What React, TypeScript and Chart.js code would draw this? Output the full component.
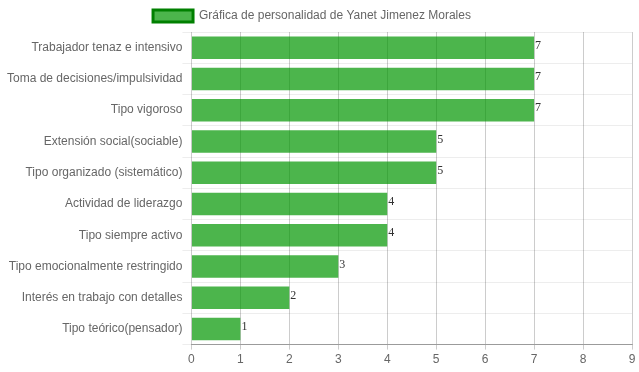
import React, { useEffect, useRef } from "react";
import { Chart, registerables } from "chart.js";

Chart.register(...registerables);

const categories = [
  "Trabajador tenaz e intensivo",
  "Toma de decisiones/impulsividad",
  "Tipo vigoroso",
  "Extensión social(sociable)",
  "Tipo organizado (sistemático)",
  "Actividad de liderazgo",
  "Tipo siempre activo",
  "Tipo emocionalmente restringido",
  "Interés en trabajo con detalles",
  "Tipo teórico(pensador)",
];
const values = [7, 7, 7, 5, 5, 4, 4, 3, 2, 1];
const seriesLabel = "Gráfica de personalidad de Yanet Jimenez Morales";
const xMin = 0;
const xMax = 9;

const valueLabels = {
  id: "valueLabels",
  afterDatasetsDraw(chart: any) {
    const ctx = chart.ctx;
    const meta = chart.getDatasetMeta(0);
    ctx.save();
    ctx.font = "12px 'Liberation Serif', serif";
    ctx.fillStyle = "#333";
    ctx.textAlign = "left";
    ctx.textBaseline = "middle";
    meta.data.forEach((bar: any, i: number) => {
      ctx.fillText(String(values[i]), bar.x + 1, bar.y - 2);
    });
    ctx.restore();
  },
};

const legendShift = {
  id: "legendShift",
  afterLayout(chart: any) {
    if (chart.legend) chart.legend.right -= 15;
  },
};

export default function App() {
  const ref = useRef<HTMLCanvasElement>(null);
  useEffect(() => {
    if (!ref.current) return;
    const chart = new Chart(ref.current, {
      type: "bar",
      data: {
        labels: categories,
        datasets: [
          {
            label: seriesLabel,
            data: values,
            backgroundColor: "rgba(0,150,0,0.7)",
            borderColor: "green",
            borderWidth: 0,
            barPercentage: 0.9,
            categoryPercentage: 0.8,
          },
        ],
      },
      options: {
        indexAxis: "y",
        responsive: false,
        animation: false,
        layout: { padding: { left: 7, right: 7, top: 0, bottom: 2 } },
        plugins: {
          legend: {
            labels: {
              boxWidth: 40,
              boxHeight: 12,
              color: "#666",
              font: { family: "'Liberation Sans', Arial, sans-serif", size: 12 },
              generateLabels: () => [
                {
                  text: seriesLabel,
                  fillStyle: "rgba(0,150,0,0.7)",
                  strokeStyle: "green",
                  lineWidth: 3,
                  fontColor: "#666",
                  datasetIndex: 0,
                } as any,
              ],
            },
          },
          tooltip: { enabled: false },
        },
        scales: {
          x: {
            min: xMin,
            max: xMax,
            ticks: {
              stepSize: 1,
              color: "#666",
              font: { family: "'Liberation Sans', Arial, sans-serif", size: 12 },
            },
            grid: { color: "rgba(0,0,0,0.2)", tickLength: 5 },
            border: { color: "rgba(0,0,0,0.35)" },
          },
          y: {
            ticks: {
              color: "#666",
              padding: 0,
              font: { family: "'Liberation Sans', Arial, sans-serif", size: 12 },
            },
            grid: { color: "rgba(0,0,0,0.07)", tickLength: 9 },
            border: { display: false },
          },
        },
      },
      plugins: [valueLabels, legendShift],
    });
    return () => chart.destroy();
  }, []);
  return (
    <div style={{ position: "fixed", left: 0, top: 0, width: 639, height: 372, background: "#fff" }}>
      <canvas ref={ref} width={639} height={372} style={{ display: "block" }} />
    </div>
  );
}
